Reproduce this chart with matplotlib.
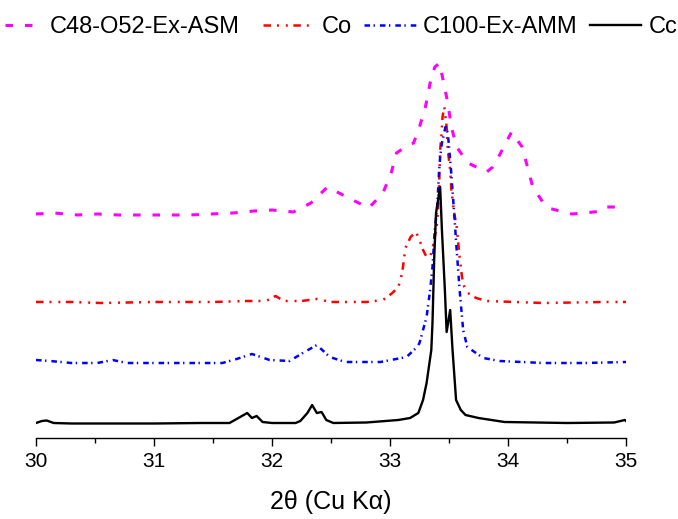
import matplotlib
matplotlib.use("Agg")
import matplotlib.pyplot as plt

plt.rcParams["font.family"] = ["Liberation Sans", "DejaVu Sans"]
plt.rcParams["lines.scale_dashes"] = False

# XRD patterns (offset, arbitrary units)
x_asm = [30.0, 30.15, 30.35, 30.52, 30.7, 31.0, 31.3, 31.67, 31.85, 32.0, 32.18, 32.33,
         32.47, 32.65, 32.82, 32.94, 33.01, 33.055, 33.155, 33.2, 33.25, 33.3, 33.34, 33.38,
         33.42, 33.49, 33.52, 33.565, 33.66, 33.82, 33.87, 33.92, 34.03, 34.12, 34.21, 34.3,
         34.34, 34.47, 34.54, 34.65, 34.8, 34.84, 34.95, 35.0]
y_asm = [224, 225, 223, 224, 223, 223, 223, 225, 227, 228, 226, 235,
         251, 240, 230, 245, 265, 285, 293, 295, 311, 331, 355, 371,
         375, 335, 311, 291, 275, 266, 271, 281, 306, 291, 251, 235,
         230, 226, 224, 225, 227, 231, 231, 231]

x_co = [30.0, 30.3, 30.55, 31.0, 31.5, 31.79, 31.95, 32.03, 32.1, 32.25, 32.38, 32.5,
        32.8, 32.94, 33.02, 33.07, 33.09, 33.11, 33.13, 33.175, 33.22, 33.25, 33.28, 33.31,
        33.345, 33.37, 33.40, 33.415, 33.425, 33.435, 33.445, 33.46, 33.48, 33.49, 33.51,
        33.52, 33.54, 33.565, 33.59, 33.61, 33.63, 33.66, 33.73, 33.82, 34.3, 34.82, 35.0]
y_co = [136, 136, 135, 136, 136, 137, 137, 142, 137, 137, 139, 136,
        136, 138, 145, 151, 158, 171, 190, 201, 206, 198, 188, 181,
        183, 195, 215, 248, 288, 301, 321, 331, 311, 288, 268,
        248, 228, 211, 181, 161, 151, 145, 140, 137, 135, 136, 136]

x_amm = [30.0, 30.12, 30.3, 30.52, 30.65, 30.77, 31.0, 31.3, 31.58, 31.7, 31.83, 31.98,
         32.15, 32.26, 32.38, 32.49, 32.62, 32.92, 33.14, 33.23, 33.25, 33.31, 33.34, 33.36,
         33.38, 33.40, 33.415, 33.425, 33.44, 33.47, 33.49, 33.515, 33.54, 33.565, 33.59,
         33.62, 33.655, 33.79, 33.93, 34.3, 34.65, 35.0]
y_amm = [78, 77, 75, 75, 78, 75, 75, 75, 75, 79, 84, 78,
         77, 85, 93, 81, 76, 76, 81, 91, 95, 121, 148, 171,
         208, 231, 265, 281, 295, 311, 305, 271, 231, 188, 148,
         108, 91, 80, 77, 75, 75, 76]

x_cc = [30.0, 30.05, 30.09, 30.15, 30.3, 30.6, 31.0, 31.4, 31.64, 31.73, 31.79, 31.83,
        31.87, 31.92, 32.0, 32.2, 32.24, 32.3, 32.34, 32.38, 32.42, 32.46, 32.52, 32.8,
        33.07, 33.17, 33.24, 33.28, 33.31, 33.35, 33.36, 33.375, 33.39, 33.425, 33.44,
        33.465, 33.48, 33.51, 33.53, 33.56, 33.6, 33.64, 33.75, 33.97, 34.5, 34.9, 34.99, 35.0]
y_cc = [15, 17, 17.5, 15, 14.5, 14.5, 14.5, 15, 15, 21, 25, 20,
        22, 16, 15, 15, 17, 25, 33, 25, 26, 18, 15, 15.5,
        18, 20, 25, 38, 55, 88, 115, 181, 225, 251, 208,
        148, 106, 128, 88, 38, 28, 23, 20, 16, 15, 15.5, 18, 17]

fig = plt.figure(figsize=(6.78, 5.19), dpi=100)
ax = fig.add_axes([36 / 678, 81 / 519, 590 / 678, 388 / 519])

l1, = ax.plot(x_asm, y_asm, color="#ff00ff", lw=2.2, dashes=(5.4, 8.6), label="C48-O52-Ex-ASM")
l2, = ax.plot(x_co, y_co, color="#ff0000", lw=1.8, dashes=(5.4, 4.3, 1.4, 5, 1.4, 4), label="Co")
l3, = ax.plot(x_amm, y_amm, color="#0000ff", lw=1.8, dashes=(4, 2.5, 1, 3.6), label="C100-Ex-AMM")
l4, = ax.plot(x_cc, y_cc, color="black", lw=1.7, label="Cc")

ax.set_xlim(30, 35)
ax.set_ylim(0, 388)
ax.set_xticks([30, 31, 32, 33, 34, 35])
ax.set_xticks([30.5, 31.5, 32.5, 33.5, 34.5], minor=True)
ax.tick_params(axis="x", which="major", length=5.5, width=1, labelsize=15, pad=4.5)
ax.tick_params(axis="x", which="minor", length=3.5, width=1)
ax.set_yticks([])
for s in ["left", "right", "top"]:
    ax.spines[s].set_visible(False)
ax.spines["bottom"].set_linewidth(1)
ax.set_xlabel("2\u03b8 (Cu K\u03b1)", fontsize=18, labelpad=14)

leg_kw = dict(loc="center left", bbox_transform=fig.transFigure, frameon=False, fontsize=17,
              handletextpad=0.3, columnspacing=0.5, borderaxespad=0, borderpad=0)
leg1 = ax.legend(handles=[l1], handlelength=1.6, bbox_to_anchor=(5 / 678, 1 - 27 / 519), **leg_kw)
ax.add_artist(leg1)
ax.legend(handles=[l2, l3, l4], ncol=3, handlelength=2.2,
          bbox_to_anchor=(263 / 678, 1 - 27 / 519), **leg_kw)

fig.savefig("out.png", dpi=100)
